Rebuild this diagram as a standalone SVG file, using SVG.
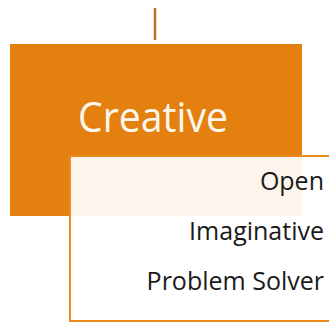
<svg xmlns="http://www.w3.org/2000/svg" width="329" height="323" viewBox="0 0 329 323">
<style>
.lbl{font-family:"Open Sans","Noto Sans",sans-serif;fill:#1a1a1a;font-size:25px;text-anchor:end}
</style>
<rect width="329" height="323" fill="#ffffff"/>
<g id="connectors">
<line x1="155" y1="8" x2="155" y2="40" stroke="#c0701f" stroke-width="2.5"/>
</g>
<g id="node-creative">
<rect x="10" y="44" width="292" height="172" fill="#e3800f"/>
<text x="78" y="132" font-family="Open Sans, Noto Sans, sans-serif" font-size="42" fill="#fdf7ee" textLength="150" lengthAdjust="spacingAndGlyphs">Creative</text>
</g>
<g id="node-traits">
<rect x="70" y="156" width="265" height="165" fill="#ffffff" fill-opacity="0.92" stroke="#ec8a1f" stroke-width="2"/>
<text class="lbl" x="324" y="190">Open</text>
<text class="lbl" x="324" y="240">Imaginative</text>
<text class="lbl" x="324" y="290">Problem Solver</text>
</g>
</svg>
